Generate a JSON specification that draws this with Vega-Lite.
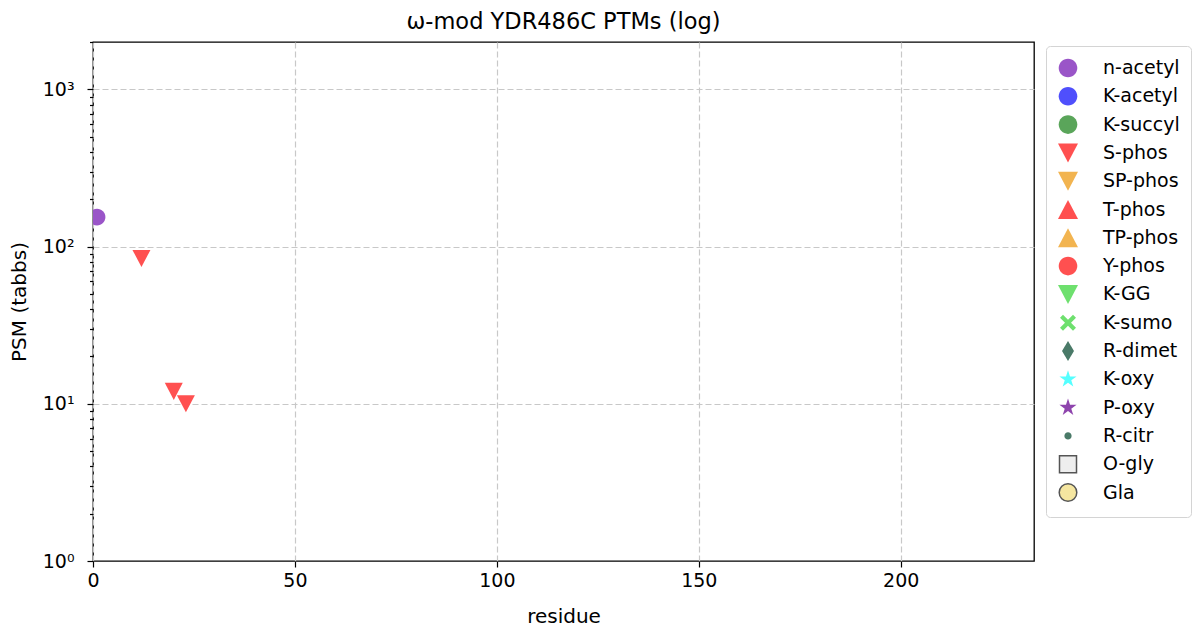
{
  "$schema": "https://vega.github.io/schema/vega-lite/v6.json",
  "autosize": {"type": "none"},
  "padding": {"left": 93, "top": 42, "right": 166, "bottom": 79},
  "width": 941,
  "height": 519,
  "title": {"text": "ω-mod YDR486C PTMs (log)", "fontSize": 22.5, "fontWeight": "normal", "font": "DejaVu Sans", "color": "#000000", "offset": 8, "dy": 8.5},
  "config": {
    "font": "DejaVu Sans",
    "view": {"stroke": "#000000", "strokeWidth": 1.3},
    "axis": {"labelFont": "DejaVu Sans", "titleFont": "DejaVu Sans", "labelColor": "#000000", "titleColor": "#000000", "tickColor": "#000000", "labelFontSize": 19, "titleFontSize": 20, "titleFontWeight": "normal", "gridColor": "#c8c8c8", "gridDash": [6, 3], "gridWidth": 1.2, "domain": false, "tickWidth": 1.2}
  },
  "data": {
    "values": [
      {"residue": 1, "psm": 154, "ptm": "n-acetyl"},
      {"residue": 12, "psm": 84, "ptm": "S-phos"},
      {"residue": 20, "psm": 12, "ptm": "S-phos"},
      {"residue": 23, "psm": 10, "ptm": "S-phos"}
    ]
  },
  "mark": {"type": "point", "filled": true, "opacity": 1, "size": 324, "strokeWidth": 1.5, "clip": true},
  "encoding": {
    "x": {
      "field": "residue", "type": "quantitative",
      "scale": {"domain": [0, 233], "nice": false, "zero": false},
      "axis": {"values": [0, 50, 100, 150, 200], "title": "residue", "tickSize": 6, "labelPadding": 4, "titlePadding": 16, "labelFlush": false}
    },
    "y": {
      "field": "psm", "type": "quantitative",
      "scale": {"type": "log", "domain": [1, 2000], "nice": false},
      "axis": {
        "title": "PSM (tabbs)",
        "values": [1, 2, 3, 4, 5, 6, 7, 8, 9, 10, 20, 30, 40, 50, 60, 70, 80, 90, 100, 200, 300, 400, 500, 600, 700, 800, 900, 1000, 2000],
        "labelExpr": "datum.value == 1 ? '10⁰' : datum.value == 10 ? '10¹' : datum.value == 100 ? '10²' : datum.value == 1000 ? '10³' : ''",
        "tickSize": {"condition": {"test": "datum.value == 1 || datum.value == 10 || datum.value == 100 || datum.value == 1000", "value": 6}, "value": 3.5},
        "gridOpacity": {"condition": {"test": "datum.value == 10 || datum.value == 100 || datum.value == 1000", "value": 1}, "value": 0},
        "labelOverlap": false,
        "labelFlush": false,
        "labelPadding": 13,
        "titlePadding": 13
      }
    },
    "fill": {
      "field": "ptm", "type": "nominal",
      "scale": {
        "domain": ["n-acetyl", "K-acetyl", "K-succyl", "S-phos", "SP-phos", "T-phos", "TP-phos", "Y-phos", "K-GG", "K-sumo", "R-dimet", "K-oxy", "P-oxy", "R-citr", "O-gly", "Gla"],
        "range": ["#9a55c8", "#4f4ffc", "#5aa55a", "#ff5050", "#f2b450", "#ff5050", "#f2b450", "#ff5050", "#6ee06e", "#6ee06e", "#4a7a68", "#55ffff", "#8e44ad", "#4a7a68", "#eeeeee", "#f5e6a0"]
      },
      "legend": {
        "title": null,
        "orient": "none",
        "legendX": 953,
        "legendY": 4,
        "padding": 11,
        "rowPadding": 2.3,
        "symbolSize": 400,
        "symbolStrokeWidth": 1.5,
        "labelFontSize": 19,
        "labelFont": "DejaVu Sans",
        "labelColor": "#000000",
        "labelOffset": 24,
        "strokeColor": "#d4d4d4",
        "fillColor": "#ffffff",
        "cornerRadius": 4,
        "symbolOpacity": 1
      }
    },
    "stroke": {
      "field": "ptm", "type": "nominal",
      "scale": {
        "domain": ["n-acetyl", "K-acetyl", "K-succyl", "S-phos", "SP-phos", "T-phos", "TP-phos", "Y-phos", "K-GG", "K-sumo", "R-dimet", "K-oxy", "P-oxy", "R-citr", "O-gly", "Gla"],
        "range": ["transparent", "transparent", "transparent", "transparent", "transparent", "transparent", "transparent", "transparent", "transparent", "transparent", "transparent", "transparent", "transparent", "transparent", "#555555", "#555555"]
      },
      "legend": {
        "title": null,
        "orient": "none",
        "legendX": 953,
        "legendY": 4
      }
    },
    "shape": {
      "field": "ptm", "type": "nominal",
      "scale": {
        "domain": ["n-acetyl", "K-acetyl", "K-succyl", "S-phos", "SP-phos", "T-phos", "TP-phos", "Y-phos", "K-GG", "K-sumo", "R-dimet", "K-oxy", "P-oxy", "R-citr", "O-gly", "Gla"],
        "range": [
          "M-1,-1M1,1M0.93,0A0.93,0.93,0,1,1,-0.93,0A0.93,0.93,0,1,1,0.93,0Z",
          "M-1,-1M1,1M0.93,0A0.93,0.93,0,1,1,-0.93,0A0.93,0.93,0,1,1,0.93,0Z",
          "M-1,-1M1,1M0.93,0A0.93,0.93,0,1,1,-0.93,0A0.93,0.93,0,1,1,0.93,0Z",
          "M-1,-1M1,1M-1,-0.95L1,-0.95L0,0.95Z",
          "M-1,-1M1,1M-1,-0.95L1,-0.95L0,0.95Z",
          "M-1,-1M1,1M0,-0.95L1,0.95L-1,0.95Z",
          "M-1,-1M1,1M0,-0.95L1,0.95L-1,0.95Z",
          "M-1,-1M1,1M0.93,0A0.93,0.93,0,1,1,-0.93,0A0.93,0.93,0,1,1,0.93,0Z",
          "M-1,-1M1,1M-1,-0.95L1,-0.95L0,0.95Z",
          "M-1,-1M1,1M0,-0.3L0.5,-0.8L0.8,-0.5L0.3,0L0.8,0.5L0.5,0.8L0,0.3L-0.5,0.8L-0.8,0.5L-0.3,0L-0.8,-0.5L-0.5,-0.8Z",
          "M-1,-1M1,1M0,-1L0.6,0L0,1L-0.6,0Z",
          "M-1,-1M1,1M0,-0.9L0.202,-0.278L0.856,-0.278L0.327,0.106L0.529,0.728L0,0.344L-0.529,0.728L-0.327,0.106L-0.856,-0.278L-0.202,-0.278Z",
          "M-1,-1M1,1M0,-0.9L0.202,-0.278L0.856,-0.278L0.327,0.106L0.529,0.728L0,0.344L-0.529,0.728L-0.327,0.106L-0.856,-0.278L-0.202,-0.278Z",
          "M-1,-1M1,1M0.36,0A0.36,0.36,0,1,1,-0.36,0A0.36,0.36,0,1,1,0.36,0Z",
          "M-1,-1M1,1M-0.85,-0.85L0.85,-0.85L0.85,0.85L-0.85,0.85Z",
          "M-1,-1M1,1M0.88,0A0.88,0.88,0,1,1,-0.88,0A0.88,0.88,0,1,1,0.88,0Z"
        ]
      },
      "legend": {
        "title": null,
        "orient": "none",
        "legendX": 953,
        "legendY": 4
      }
    }
  }
}
